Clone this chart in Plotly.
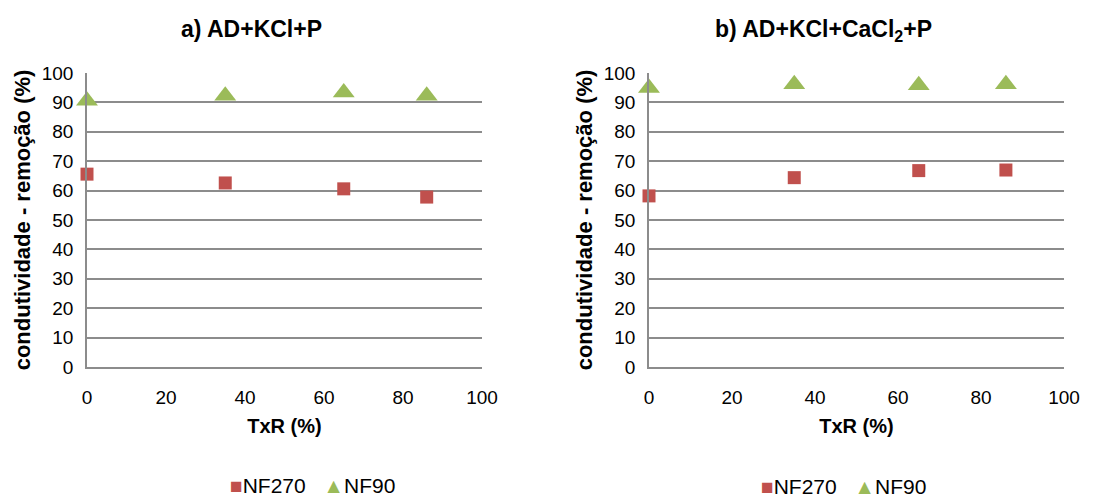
import plotly.graph_objects as go

txr = [0, 35, 65, 86]
a_nf270 = [65.6, 62.6, 60.6, 57.8]
a_nf90 = [90.6, 92.3, 93.4, 92.3]
b_nf270 = [58.2, 64.4, 66.8, 67.0]
b_nf90 = [94.9, 96.2, 95.8, 96.2]

x_ticks = [0, 20, 40, 60, 80, 100]
y_ticks = [0, 10, 20, 30, 40, 50, 60, 70, 80, 90, 100]
series_names = ["NF270", "NF90"]

RED = "#C0504D"
GREEN = "#9BBB59"
GRID = "#8C8C8C"
FONT = "Liberation Sans, Arial, sans-serif"

fig = go.Figure()

def add_pair(nf270, nf90, xa, ya):
    fig.add_trace(go.Scatter(x=txr, y=nf270, mode="markers", name=series_names[0],
                             marker=dict(symbol="square", size=13, color=RED),
                             cliponaxis=False, xaxis=xa, yaxis=ya, showlegend=False))
    fig.add_trace(go.Scatter(x=txr, y=nf90, mode="markers", name=series_names[1],
                             marker=dict(symbol="triangle-up", size=19, color=GREEN),
                             cliponaxis=False, xaxis=xa, yaxis=ya, showlegend=False))

add_pair(a_nf270, a_nf90, "x", "y")
add_pair(b_nf270, b_nf90, "x2", "y2")

W, H = 1111, 497
ydom = [1 - 367 / H, 1 - 73 / H]

def xaxis(dom, anchor):
    return dict(domain=dom, anchor=anchor, range=[0, 100], tickvals=x_ticks,
                showgrid=False, zeroline=False, showline=True, linecolor=GRID,
                linewidth=1.5, ticks="", ticklabelstandoff=12,
                tickfont=dict(size=19, color="#000", family=FONT),
                title=dict(text="<b>TxR (%)</b>", font=dict(size=20, color="#000", family=FONT),
                           standoff=12),
                automargin=False, fixedrange=True)

def yaxis(anchor):
    return dict(domain=ydom, anchor=anchor, range=[0, 100], tickvals=y_ticks,
                showgrid=True, gridcolor=GRID, gridwidth=1.5, zeroline=False,
                showline=True, linecolor=GRID, linewidth=1.5, ticks="",
                ticklabelstandoff=8,
                tickfont=dict(size=19, color="#000", family=FONT),
                title=dict(text="<b>condutividade - remoção (%)</b>",
                           font=dict(size=22, color="#000", family=FONT), standoff=5),
                automargin=False, fixedrange=True)

def legend_text():
    return (f'<span style="color:{RED}">■</span>{series_names[0]}   '
            f'<span style="color:{GREEN}">▲</span>{series_names[1]}')

fig.update_layout(
    width=W, height=H,
    margin=dict(l=0, r=0, t=0, b=0),
    paper_bgcolor="white", plot_bgcolor="white",
    font=dict(family=FONT, color="#000"),
    xaxis=xaxis([87 / W, 482 / W], "y"),
    yaxis=yaxis("x"),
    xaxis2=xaxis([649 / W, 1064 / W], "y2"),
    yaxis2=yaxis("x2"),
    showlegend=False,
    annotations=[
        dict(text="<b>a) AD+KCl+P</b>", x=251 / W, y=1 - 29 / H, xref="paper", yref="paper",
             xanchor="center", yanchor="middle", showarrow=False,
             font=dict(size=23, family=FONT, color="#000")),
        dict(text="<b>b) AD+KCl+CaCl<sub>2</sub>+P</b>", x=823 / W, y=1 - 31 / H,
             xref="paper", yref="paper", xanchor="center", yanchor="middle",
             showarrow=False, font=dict(size=23, family=FONT, color="#000")),
        dict(text=legend_text(), x=312 / W, y=1 - 485 / H, xref="paper", yref="paper",
             xanchor="center", yanchor="middle", showarrow=False,
             font=dict(size=21, family=FONT, color="#000")),
        dict(text=legend_text(), x=843 / W, y=1 - 486 / H, xref="paper", yref="paper",
             xanchor="center", yanchor="middle", showarrow=False,
             font=dict(size=21, family=FONT, color="#000")),
    ],
)

fig.write_html("out.html", config={"displayModeBar": False})
